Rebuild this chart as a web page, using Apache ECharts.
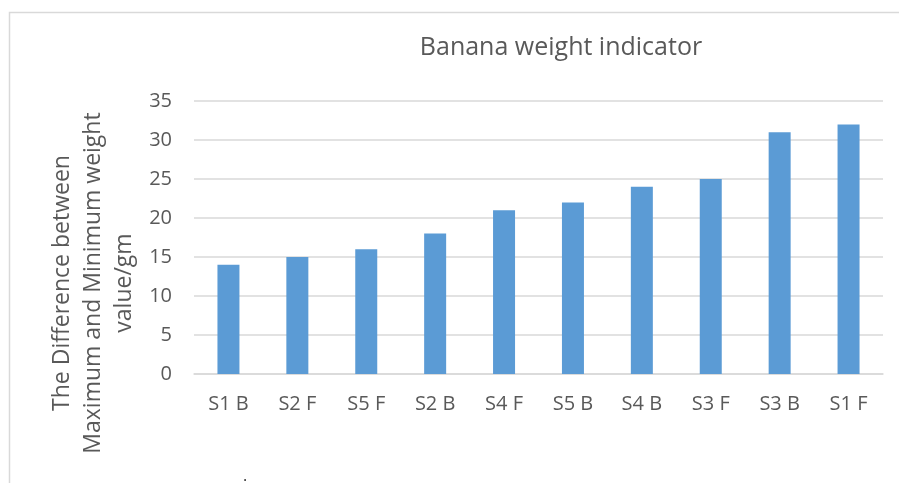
<!DOCTYPE html>
<html lang="en">
<head>
    <meta charset="UTF-8">
    <title>Banana weight indicator</title>
    <script src="https://cdn.jsdelivr.net/npm/echarts@6/dist/echarts.min.js"></script>
</head>
<body style="margin:0;background:#fff">
<div id="chart" style="width:899px;height:483px"></div>
<script>
    var categories = ['S1 B', 'S2 F', 'S5 F', 'S2 B', 'S4 F', 'S5 B', 'S4 B', 'S3 F', 'S3 B', 'S1 F'];
    var weightDiff = [14, 15, 16, 18, 21, 22, 24, 25, 31, 32];
    var yTicks = [0, 5, 10, 15, 20, 25, 30, 35];

    var textColor = '#595959';
    var lineColor = '#d9d9d9';
    var font = '"Open Sans", sans-serif';

    var _chart = echarts.init(document.getElementById('chart'));
    var option = {
        animation: false,
        title: {
            text: 'Banana weight indicator',
            left: 556,
            top: 30,
            textAlign: 'center',
            textStyle: {color: textColor, fontSize: 25, fontWeight: 'normal', fontFamily: font}
        },
        grid: {left: 194, right: 16, top: 101, bottom: 109},
        xAxis: {
            type: 'category',
            data: categories,
            axisLine: {lineStyle: {color: lineColor, width: 1.5}},
            axisTick: {show: false},
            axisLabel: {color: textColor, fontSize: 20, fontFamily: font, margin: 20}
        },
        yAxis: {
            type: 'value',
            min: yTicks[0],
            max: yTicks[yTicks.length - 1],
            interval: 5,
            axisLine: {show: false},
            axisTick: {show: false},
            splitLine: {lineStyle: {color: lineColor, width: 1.5}},
            axisLabel: {color: textColor, fontSize: 20, fontFamily: font, margin: 22}
        },
        graphic: [
            {   // outer chart border (top and left edges visible)
                type: 'rect',
                shape: {x: 9.5, y: 12.5, width: 1000, height: 600},
                style: {fill: null, stroke: lineColor, lineWidth: 1.5},
                silent: true
            },
            {   // y axis title, three lines
                type: 'text',
                x: 93,
                y: 283,
                rotation: Math.PI / 2,
                style: {
                    text: 'The Difference between\nMaximum and Minimum weight\nvalue/gm',
                    fill: textColor,
                    font: '23px "Open Sans", sans-serif',
                    lineHeight: 31,
                    align: 'center',
                    verticalAlign: 'middle'
                }
            },
            {
                type: 'text',
                x: 243,
                y: 468,
                style: {text: '.', fill: '#333', font: '16px "Open Sans", sans-serif'}
            }
        ],
        series: [{
            type: 'bar',
            data: weightDiff,
            barWidth: 22,
            itemStyle: {color: '#5b9bd5'}
        }]
    };
    _chart.setOption(option, true);
</script>
</body>
</html>
